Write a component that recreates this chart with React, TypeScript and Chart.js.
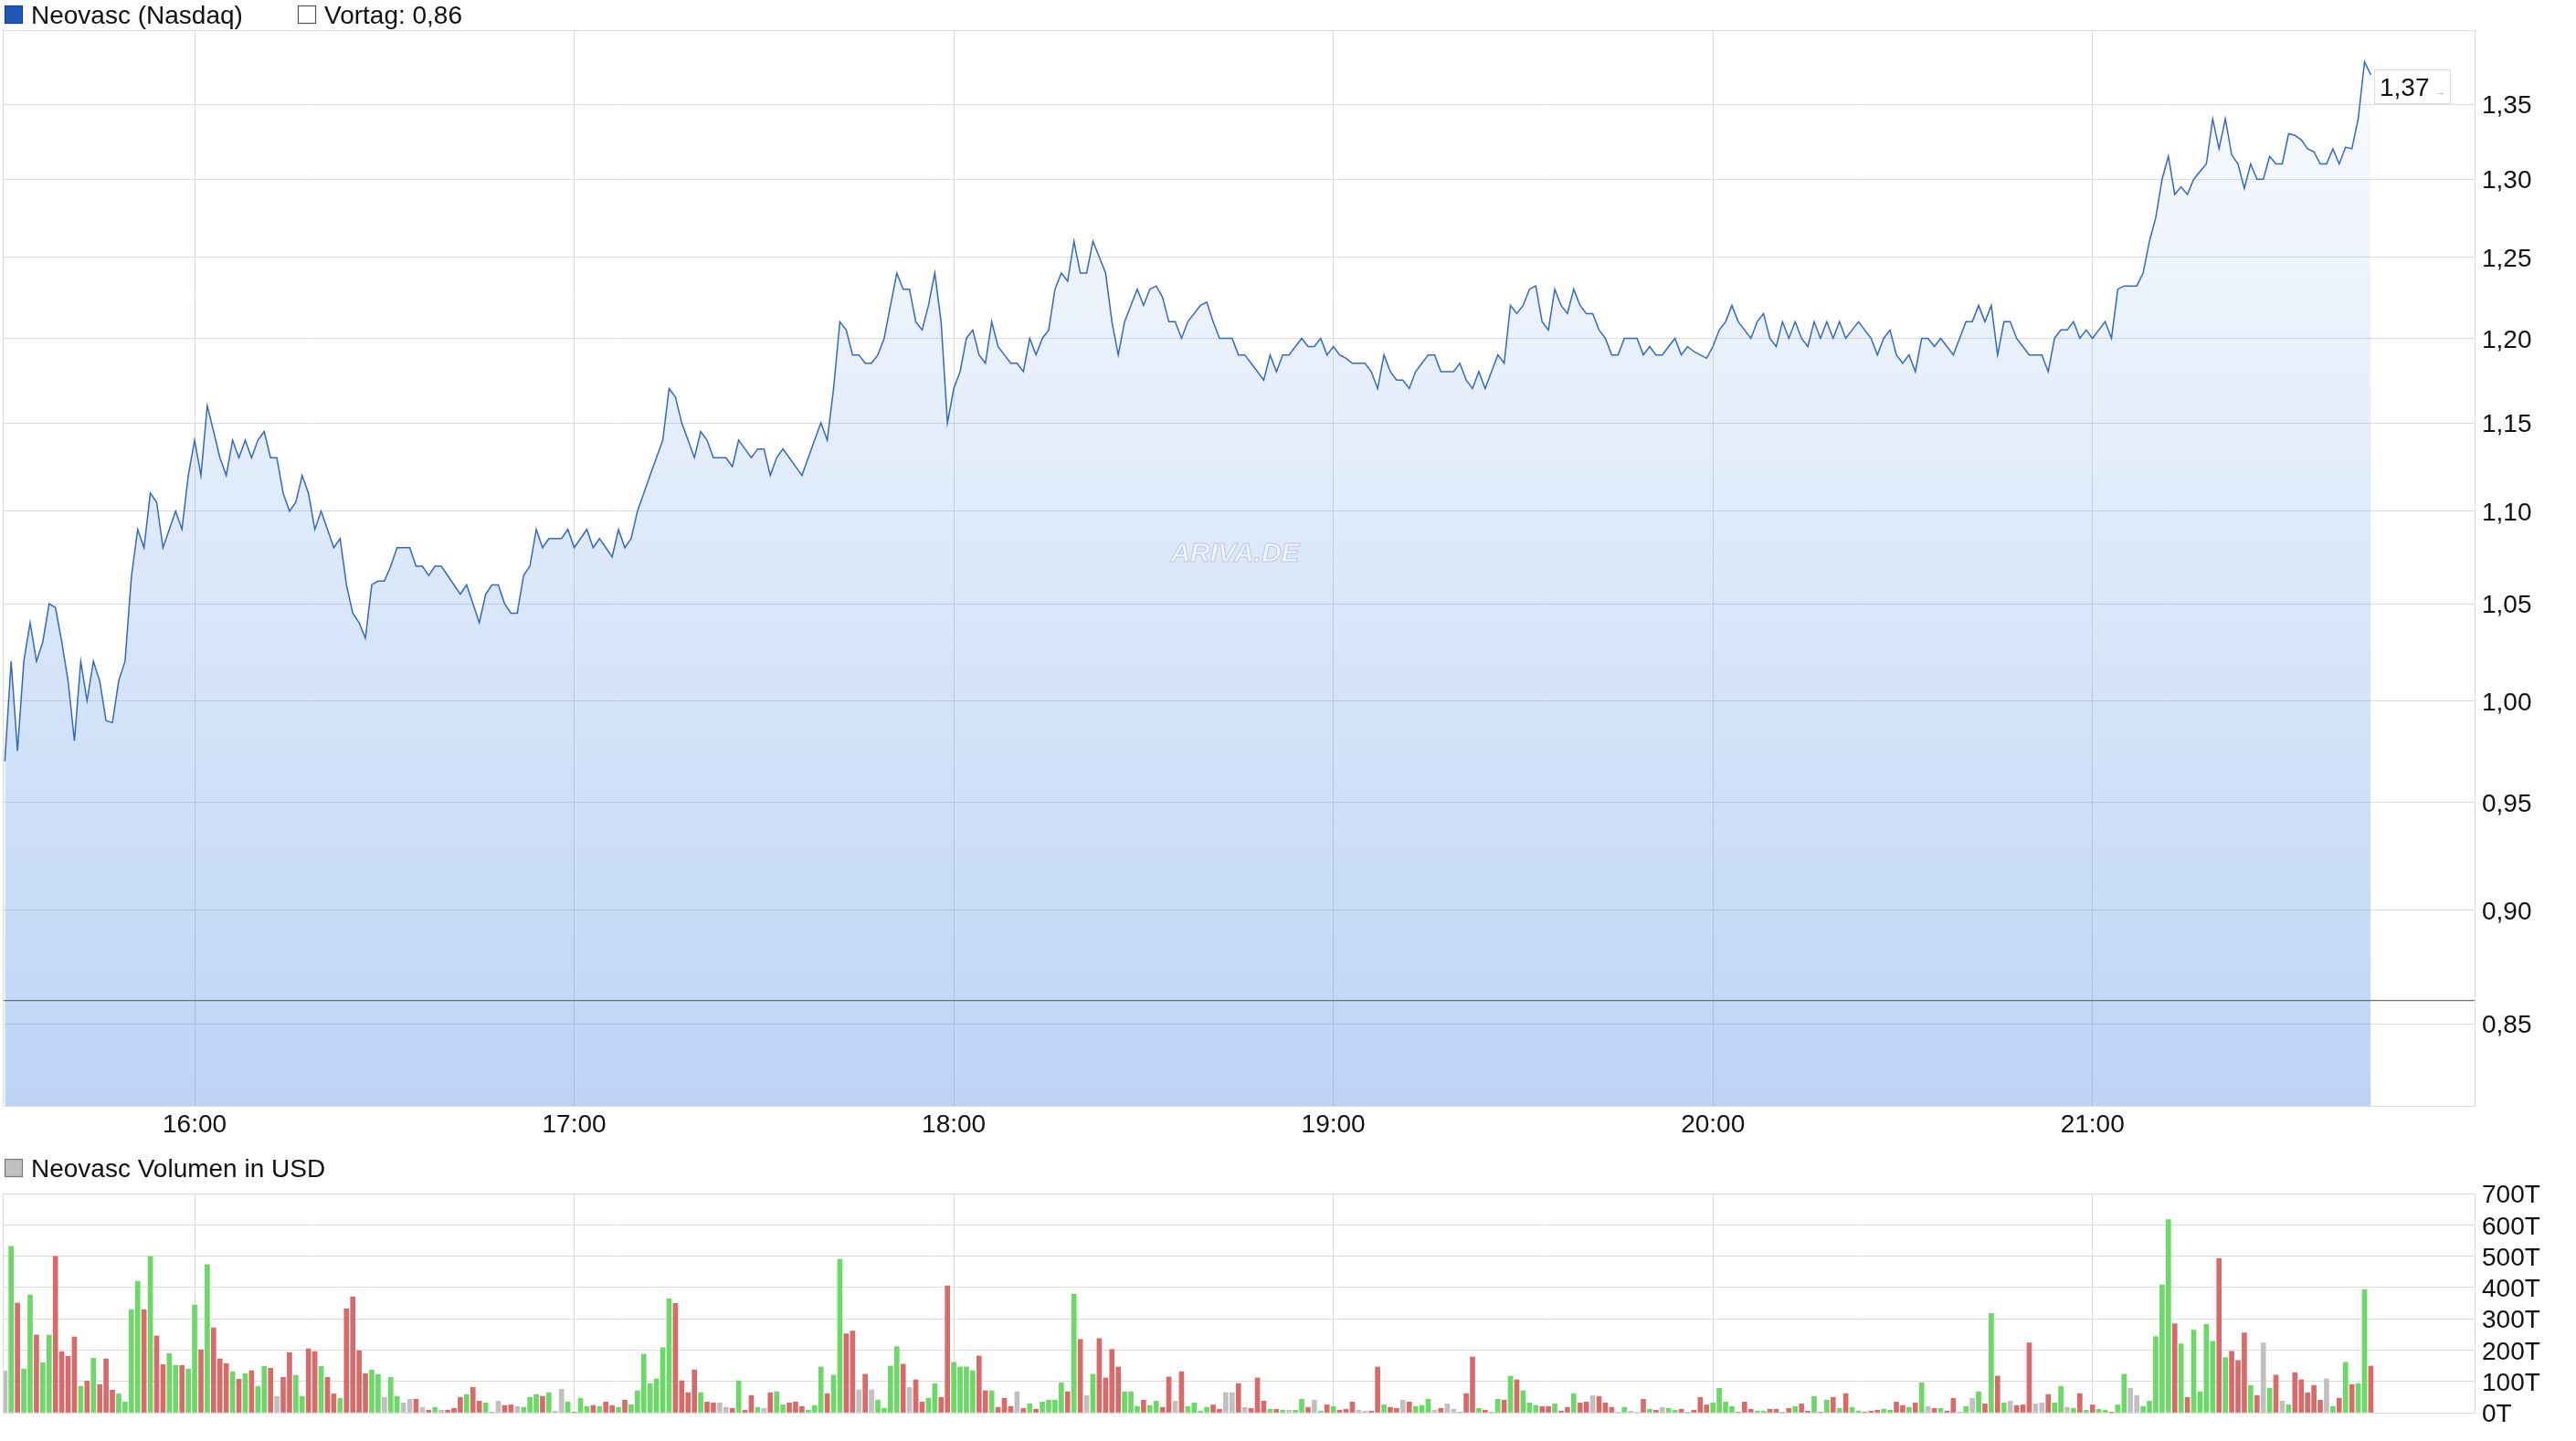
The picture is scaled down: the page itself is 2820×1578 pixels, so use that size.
import React, { useEffect, useRef } from 'react';
import { Chart, registerables } from 'chart.js';

Chart.register(...registerables);

// ---------- data ----------
const sessionStart = '15:30'; // first minute of the series (index 0)
const priceValues: number[] = [
  0.97, 1.02, 0.975, 1.02, 1.04, 1.02, 1.03, 1.05, 1.048, 1.03,
  1.01, 0.98, 1.02, 1.0, 1.02, 1.01, 0.99, 0.989, 1.01, 1.02,
  1.064, 1.09, 1.08, 1.11, 1.105, 1.08, 1.09, 1.1, 1.09, 1.12,
  1.14, 1.12, 1.16, 1.145, 1.13, 1.12, 1.14, 1.13, 1.14, 1.13,
  1.14, 1.145, 1.13, 1.13, 1.11, 1.1, 1.105, 1.12, 1.11, 1.09,
  1.1, 1.09, 1.08, 1.085, 1.06, 1.045, 1.04, 1.032, 1.06, 1.062,
  1.062, 1.07, 1.08, 1.08, 1.08, 1.07, 1.07, 1.065, 1.07, 1.07,
  1.065, 1.06, 1.055, 1.06, 1.05, 1.04, 1.055, 1.06, 1.06, 1.05,
  1.045, 1.045, 1.065, 1.07, 1.09, 1.08, 1.085, 1.085, 1.085, 1.09,
  1.08, 1.085, 1.09, 1.08, 1.085, 1.08, 1.075, 1.09, 1.08, 1.085,
  1.1, 1.11, 1.12, 1.13, 1.14, 1.17, 1.165, 1.15, 1.14, 1.13,
  1.145, 1.14, 1.13, 1.13, 1.13, 1.125, 1.14, 1.135, 1.13, 1.135,
  1.135, 1.12, 1.13, 1.135, 1.13, 1.125, 1.12, 1.13, 1.14, 1.15,
  1.14, 1.17, 1.21, 1.205, 1.19, 1.19, 1.185, 1.185, 1.19, 1.2,
  1.22, 1.24, 1.23, 1.23, 1.21, 1.205, 1.22, 1.24, 1.21, 1.15,
  1.17, 1.18, 1.2, 1.205, 1.19, 1.185, 1.21, 1.195, 1.19, 1.185,
  1.185, 1.18, 1.2, 1.19, 1.2, 1.205, 1.23, 1.24, 1.235, 1.26,
  1.24, 1.24, 1.26, 1.25, 1.24, 1.21, 1.19, 1.21, 1.22, 1.23,
  1.22, 1.23, 1.232, 1.225, 1.21, 1.21, 1.2, 1.21, 1.215, 1.22,
  1.222, 1.21, 1.2, 1.2, 1.2, 1.19, 1.19, 1.185, 1.18, 1.175,
  1.19, 1.18, 1.19, 1.19, 1.195, 1.2, 1.195, 1.195, 1.2, 1.19,
  1.195, 1.19, 1.188, 1.185, 1.185, 1.185, 1.18, 1.17, 1.19, 1.18,
  1.175, 1.175, 1.17, 1.18, 1.185, 1.19, 1.19, 1.18, 1.18, 1.18,
  1.185, 1.175, 1.17, 1.18, 1.17, 1.18, 1.19, 1.185, 1.22, 1.215,
  1.22, 1.23, 1.232, 1.21, 1.205, 1.23, 1.22, 1.215, 1.23, 1.22,
  1.215, 1.215, 1.205, 1.2, 1.19, 1.19, 1.2, 1.2, 1.2, 1.19,
  1.195, 1.19, 1.19, 1.195, 1.2, 1.19, 1.195, 1.192, 1.19, 1.188,
  1.195, 1.205, 1.21, 1.22, 1.21, 1.205, 1.2, 1.21, 1.215, 1.2,
  1.195, 1.21, 1.2, 1.21, 1.2, 1.195, 1.21, 1.2, 1.21, 1.2,
  1.21, 1.2, 1.205, 1.21, 1.205, 1.2, 1.19, 1.2, 1.205, 1.19,
  1.185, 1.19, 1.18, 1.2, 1.2, 1.195, 1.2, 1.195, 1.19, 1.2,
  1.21, 1.21, 1.22, 1.21, 1.22, 1.19, 1.21, 1.21, 1.2, 1.195,
  1.19, 1.19, 1.19, 1.18, 1.2, 1.205, 1.205, 1.21, 1.2, 1.205,
  1.2, 1.205, 1.21, 1.2, 1.23, 1.232, 1.232, 1.232, 1.24, 1.26,
  1.275, 1.3, 1.315, 1.29, 1.295, 1.29, 1.3, 1.305, 1.31, 1.34,
  1.32, 1.34, 1.316, 1.31, 1.294, 1.31, 1.3, 1.3, 1.315, 1.31,
  1.31, 1.33, 1.329, 1.326, 1.32, 1.318, 1.31, 1.31, 1.32, 1.31,
  1.321, 1.32, 1.34, 1.379, 1.37,
];
// volume per minute in T (thousand USD)
const volumeValues: number[] = [
  133, 531, 350, 139, 376, 248, 160, 248, 499, 195,
  180, 242, 84, 101, 174, 90, 172, 72, 60, 34,
  329, 420, 329, 499, 245, 154, 189, 151, 151, 139,
  344, 201, 473, 271, 172, 157, 131, 107, 125, 134,
  84, 148, 142, 52, 113, 192, 119, 52, 204, 195,
  148, 113, 60, 46, 332, 370, 198, 125, 136, 122,
  49, 113, 52, 31, 43, 43, 17, 8, 17, 8,
  8, 14, 49, 58, 81, 37, 31, 2, 37, 23,
  25, 20, 17, 49, 58, 52, 64, 5, 75, 34,
  2, 46, 20, 23, 20, 34, 23, 17, 40, 25,
  70, 187, 93, 108, 208, 364, 349, 102, 64, 137,
  64, 34, 31, 31, 17, 14, 102, 8, 55, 17,
  14, 64, 67, 25, 31, 34, 20, 8, 23, 146,
  61, 120, 490, 252, 261, 73, 123, 73, 40, 14,
  149, 211, 155, 81, 105, 34, 46, 93, 49, 405,
  161, 146, 146, 134, 181, 70, 70, 17, 46, 20,
  67, 14, 28, 11, 34, 40, 40, 96, 67, 378,
  234, 55, 123, 237, 111, 202, 146, 67, 67, 20,
  40, 23, 37, 17, 114, 37, 131, 20, 31, 5,
  17, 25, 11, 64, 64, 93, 17, 14, 111, 37,
  11, 11, 8, 8, 8, 43, 17, 40, 5, 25,
  20, 8, 11, 34, 8, 5, 5, 146, 25, 17,
  14, 40, 34, 20, 23, 43, 8, 14, 28, 11,
  2, 61, 178, 14, 8, 2, 43, 40, 117, 105,
  70, 31, 23, 20, 20, 28, 5, 17, 61, 31,
  34, 55, 52, 31, 17, 2, 17, 5, 2, 43,
  11, 8, 17, 14, 8, 11, 2, 8, 49, 25,
  31, 78, 34, 20, 2, 34, 11, 5, 5, 11,
  11, 2, 14, 20, 28, 5, 52, 2, 40, 49,
  14, 61, 17, 5, 2, 5, 8, 11, 8, 34,
  23, 17, 31, 96, 20, 14, 14, 5, 46, 2,
  20, 46, 67, 28, 317, 117, 31, 37, 23, 25,
  223, 28, 31, 58, 31, 84, 17, 14, 61, 8,
  25, 11, 8, 2, 25, 123, 78, 55, 20, 37,
  243, 408, 617, 284, 220, 49, 264, 67, 282, 228,
  493, 176, 196, 167, 255, 87, 55, 223, 78, 120,
  37, 25, 128, 105, 64, 87, 40, 108, 20, 46,
  161, 90, 93, 393, 149,
];
const previousClose = 0.86;
const priceTicks = [0.85, 0.9, 0.95, 1.0, 1.05, 1.1, 1.15, 1.2, 1.25, 1.3, 1.35];
const volumeTicks = [0, 100, 200, 300, 400, 500, 600, 700];
const hourTickMinutes = [30, 90, 150, 210, 270, 330];
const hourLabels = ['16:00', '17:00', '18:00', '19:00', '20:00', '21:00'];
const priceAxisRange = [0.8156, 1.4012];
const volumeAxisRange = [0, 700];
const timeAxisRange = [-0.33, 390.4]; // minutes after session start (15:30 .. 22:00)
const priceLabel = 'Neovasc (Nasdaq)';
const volumeLabel = 'Neovasc Volumen in USD';

// ---------- styles ----------
const FONT = '"Liberation Sans", Arial, Helvetica, sans-serif';
const FONT_SIZE = 28;
const GRID = '#dcdcdc';
const TEXT = '#111111';
const UP = '#6ad965';
const DOWN = '#d96a6a';
const FLAT = '#c0c0c0';
const W = 2820;
const H1 = 1262;
const H2 = 316;

const fmt = (v: number) => v.toFixed(2).replace('.', ',');

const boxPlugin = {
  id: 'plotBox',
  afterDraw(chart: any) {
    const { ctx, chartArea: a } = chart;
    ctx.save();
    ctx.strokeStyle = GRID;
    ctx.lineWidth = 1;
    ctx.strokeRect(Math.round(a.left) + 0.5, Math.round(a.top) + 0.5, Math.round(a.right - a.left), Math.round(a.bottom - a.top));
    ctx.restore();
  },
};

// y-axis labels, drawn centred on their grid lines
function makeYLabelPlugin(values: number[], format: (v: number) => string) {
  return {
    id: 'yLabels',
    afterDraw(chart: any) {
      const { ctx, chartArea: a } = chart;
      const s = chart.scales.y;
      ctx.save();
      ctx.fillStyle = TEXT;
      ctx.font = `${FONT_SIZE}px ${FONT}`;
      ctx.textBaseline = 'middle';
      ctx.textAlign = 'left';
      values.forEach((v) => {
        ctx.fillText(format(v), a.right + 8, s.getPixelForValue(v) + 2.5);
      });
      ctx.restore();
    },
  };
}

function drawLegendItem(ctx: CanvasRenderingContext2D, x: number, cy: number, fill: string, stroke: string, text: string) {
  ctx.save();
  ctx.fillStyle = fill;
  ctx.fillRect(x, cy - 10, 20, 20);
  ctx.strokeStyle = stroke;
  ctx.lineWidth = 1.2;
  ctx.strokeRect(x + 0.5, cy - 9.5, 19, 19);
  ctx.fillStyle = TEXT;
  ctx.font = `${FONT_SIZE}px ${FONT}`;
  ctx.textBaseline = 'middle';
  ctx.textAlign = 'left';
  ctx.fillText(text, x + 29, cy + 2.5);
  ctx.restore();
}

const priceDecorPlugin = {
  id: 'priceDecor',
  afterDatasetsDraw(chart: any) {
    const { ctx, chartArea: a } = chart;
    // watermark
    ctx.save();
    ctx.font = `italic bold 30px ${FONT}`;
    ctx.textAlign = 'center';
    ctx.textBaseline = 'middle';
    ctx.fillStyle = 'rgba(255,255,255,0.55)';
    ctx.strokeStyle = 'rgba(130,150,190,0.45)';
    ctx.lineWidth = 1;
    const wx = (a.left + a.right) / 2 - 4;
    const wy = a.top + (a.bottom - a.top) * 0.487;
    ctx.fillText('ARIVA.DE', wx, wy);
    ctx.strokeText('ARIVA.DE', wx, wy);
    ctx.restore();
  },
  afterDraw(chart: any) {
    const { ctx } = chart;
    drawLegendItem(ctx, 5, 16, '#1f57b8', '#1a3f80', priceLabel);
    drawLegendItem(ctx, 326, 16, '#ffffff', '#555555', `Vortag: ${fmt(previousClose)}`);
    // last value label
    const meta = chart.getDatasetMeta(0);
    const pt = meta.data[meta.data.length - 1];
    if (!pt) return;
    const bx = Math.round(pt.x) + 4;
    const by = Math.round(pt.y) - 6;
    ctx.save();
    ctx.fillStyle = '#ffffff';
    ctx.fillRect(bx, by, 83, 37);
    ctx.strokeStyle = '#dddddd';
    ctx.lineWidth = 1;
    ctx.strokeRect(bx + 0.5, by + 0.5, 83, 37);
    ctx.fillStyle = TEXT;
    ctx.font = `${FONT_SIZE}px ${FONT}`;
    ctx.textBaseline = 'middle';
    ctx.textAlign = 'left';
    ctx.fillText(fmt(priceValues[priceValues.length - 1]), bx + 6, by + 21);
    ctx.fillStyle = '#b0b0b0';
    ctx.font = `13px ${FONT}`;
    ctx.fillText('→', bx + 65, by + 25);
    ctx.restore();
  },
};

const volumeDecorPlugin = {
  id: 'volumeDecor',
  afterDraw(chart: any) {
    drawLegendItem(chart.ctx, 5, 17, '#c0c0c0', '#777777', volumeLabel);
  },
};

function hourLabel(v: number) {
  const k = hourTickMinutes.indexOf(v);
  return k >= 0 ? hourLabels[k] : '';
}

export default function App() {
  const priceRef = useRef<HTMLCanvasElement | null>(null);
  const volRef = useRef<HTMLCanvasElement | null>(null);

  useEffect(() => {
    const font = { family: FONT, size: FONT_SIZE };
    const priceChart = new Chart(priceRef.current as HTMLCanvasElement, {
      type: 'line',
      data: {
        datasets: [
          {
            label: priceLabel,
            data: priceValues.map((y, i) => ({ x: i, y })),
            borderColor: '#3068c9',
            borderWidth: 1.5,
            pointRadius: 0,
            tension: 0,
            fill: 'start',
            backgroundColor: (c: any) => {
              const a = c.chart.chartArea;
              if (!a) return 'rgba(64,132,229,0.2)';
              const g = c.chart.ctx.createLinearGradient(0, a.top, 0, a.bottom);
              g.addColorStop(0, 'rgba(64,132,229,0.02)');
              g.addColorStop(1, 'rgba(64,132,229,0.35)');
              return g;
            },
            order: 2,
          },
          {
            label: `Vortag: ${fmt(previousClose)}`,
            data: [
              { x: timeAxisRange[0], y: previousClose },
              { x: timeAxisRange[1], y: previousClose },
            ],
            borderColor: '#707070',
            borderWidth: 1.2,
            pointRadius: 0,
            fill: false,
            order: 1,
          },
        ],
      },
      options: {
        animation: false,
        responsive: false,
        maintainAspectRatio: false,
        layout: { padding: { top: 33, left: 3, right: 0, bottom: 0 } },
        plugins: { legend: { display: false }, tooltip: { enabled: false } },
        scales: {
          x: {
            type: 'linear',
            min: timeAxisRange[0],
            max: timeAxisRange[1],
            afterBuildTicks: (s: any) => {
              s.ticks = hourTickMinutes.map((v) => ({ value: v }));
            },
            afterFit: (s: any) => {
              s.height = H1 - 1211;
            },
            grid: { color: GRID, lineWidth: 1, drawTicks: false },
            border: { color: GRID },
            ticks: {
              padding: 4,
              color: TEXT,
              font,
              autoSkip: false,
              maxRotation: 0,
              callback: (v: any) => hourLabel(Number(v)),
            },
          },
          y: {
            type: 'logarithmic',
            position: 'right',
            min: priceAxisRange[0],
            max: priceAxisRange[1],
            afterBuildTicks: (s: any) => {
              s.ticks = priceTicks.map((v) => ({ value: v }));
            },
            afterFit: (s: any) => {
              s.width = W - 2709;
            },
            grid: { color: GRID, lineWidth: 1, drawTicks: false },
            border: { color: GRID },
            ticks: {
              padding: 8,
              color: 'rgba(0,0,0,0)',
              font,
              autoSkip: false,
              callback: (v: any) => fmt(Number(v)),
            },
          },
        },
      } as any,
      plugins: [boxPlugin, priceDecorPlugin, makeYLabelPlugin(priceTicks, fmt)],
    });

    const barColors = volumeValues.map((_, i) => {
      if (i === 0 || priceValues[i] === priceValues[i - 1]) return FLAT;
      return priceValues[i] > priceValues[i - 1] ? UP : DOWN;
    });

    const volChart = new Chart(volRef.current as HTMLCanvasElement, {
      type: 'bar',
      data: {
        datasets: [
          {
            label: volumeLabel,
            data: volumeValues.map((y, i) => ({ x: i, y })),
            backgroundColor: barColors,
            borderWidth: 0,
            barThickness: 5,
            grouped: false,
          },
        ],
      },
      options: {
        animation: false,
        responsive: false,
        maintainAspectRatio: false,
        layout: { padding: { top: 45, left: 3, right: 0, bottom: 0 } },
        plugins: { legend: { display: false }, tooltip: { enabled: false } },
        scales: {
          x: {
            type: 'linear',
            offset: false,
            min: timeAxisRange[0],
            max: timeAxisRange[1],
            afterBuildTicks: (s: any) => {
              s.ticks = hourTickMinutes.map((v) => ({ value: v }));
            },
            afterFit: (s: any) => {
              s.height = H2 - 285;
            },
            grid: { color: GRID, lineWidth: 1, drawTicks: false, offset: false },
            border: { color: GRID },
            ticks: { display: false },
          },
          y: {
            type: 'linear',
            position: 'right',
            min: volumeAxisRange[0],
            max: volumeAxisRange[1],
            afterBuildTicks: (s: any) => {
              s.ticks = volumeTicks.map((v) => ({ value: v }));
            },
            afterFit: (s: any) => {
              s.width = W - 2709;
            },
            grid: { color: GRID, lineWidth: 1, drawTicks: false },
            border: { color: GRID },
            ticks: {
              padding: 8,
              color: 'rgba(0,0,0,0)',
              font,
              autoSkip: false,
              callback: (v: any) => `${Number(v)}T`,
            },
          },
        },
      } as any,
      plugins: [boxPlugin, volumeDecorPlugin, makeYLabelPlugin(volumeTicks, (v) => `${v}T`)],
    });

    return () => {
      priceChart.destroy();
      volChart.destroy();
    };
  }, []);

  return (
    <div style={{ position: 'absolute', left: 0, top: 0, width: W, height: H1 + H2, background: '#ffffff', overflow: 'hidden' }}>
      <canvas ref={priceRef} width={W} height={H1} style={{ position: 'absolute', left: 0, top: 0, width: W, height: H1, display: 'block' }} />
      <canvas ref={volRef} width={W} height={H2} style={{ position: 'absolute', left: 0, top: H1, width: W, height: H2, display: 'block' }} />
      <span style={{ display: 'none' }}>{sessionStart}</span>
    </div>
  );
}
